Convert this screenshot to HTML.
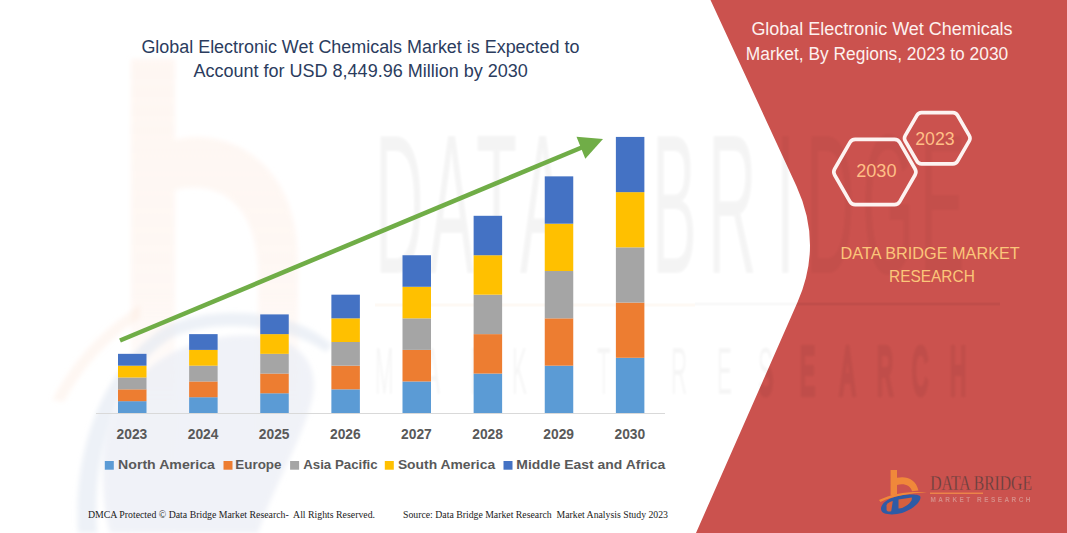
<!DOCTYPE html>
<html lang="en">
<head>
<meta charset="utf-8">
<title>Global Electronic Wet Chemicals Market</title>
<style>
  html, body { margin: 0; padding: 0; background: #ffffff; }
  body { width: 1067px; height: 533px; overflow: hidden; position: relative; }
  svg { position: absolute; left: 0; top: 0; display: block; }
  .sans { font-family: "Liberation Sans", "DejaVu Sans", sans-serif; }
  .serif { font-family: "Liberation Serif", "DejaVu Serif", serif; }
</style>
</head>
<body>
<svg width="1067" height="533" viewBox="0 0 1067 533">
  <rect x="0" y="0" width="1067" height="533" fill="#ffffff"/>
  <defs><filter id="soft" x="-10%" y="-10%" width="120%" height="120%"><feGaussianBlur stdDeviation="2.5"/></filter><filter id="soft2" x="-5%" y="-5%" width="110%" height="110%"><feGaussianBlur stdDeviation="1.2"/></filter><filter id="soft3" x="-5%" y="-30%" width="110%" height="160%"><feGaussianBlur stdDeviation="0.45"/></filter></defs>
  <g id="wm-left" filter="url(#soft)">
    <defs><linearGradient id="bgrad" gradientUnits="userSpaceOnUse" x1="0" y1="60" x2="0" y2="533"><stop offset="0" stop-color="#fdeee6" stop-opacity="0.5"/><stop offset="0.5" stop-color="#fdeee6" stop-opacity="0.45"/><stop offset="0.75" stop-color="#fdeee6" stop-opacity="0.1"/><stop offset="1" stop-color="#eef0f6" stop-opacity="0.1"/></linearGradient></defs>
    <path d="M131 59 L175 59 L175 140 C 215 128, 298 150, 298 262 L 298 430 L 258 430 L 258 275 C 258 200, 215 180, 175 190 L 175 533 L 131 533 Z" fill="url(#bgrad)"/>
    <path fill="#dfe5f0" opacity="0.55" d="M78 533 C 74 470, 90 380, 160 330 C 200 305, 290 305, 332 345 L 326 352 C 285 322, 205 318, 168 340 C 112 378, 92 460, 97 533 Z"/>
    <path fill="#e9edf5" opacity="0.7" d="M103 470 C 103 400, 150 345, 230 336 C 292 330, 322 358, 312 400 C 302 440, 272 490, 258 533 L 110 533 C 105 515, 103 495, 103 470 Z"/>
    <path d="M52 400 C 72 362, 100 330, 140 305 L 140 318 C 108 340, 82 368, 64 402 Z" fill="#fbe3d3" opacity="0.3"/>
  </g>
  <g opacity="0.04" filter="url(#soft2)"><text class="sans" transform="scale(0.34,1)" x="1102.9 1261.8 1400.0 1529.4 1764.7 1917.6 2082.4 2282.4 2370.6 2535.3 2705.9" y="273" font-size="198" fill="#000">DATA BRIDGE</text></g>
  <g opacity="0.035" filter="url(#soft2)"><text class="sans" transform="scale(0.34,1)" x="1102.9 1250.0 1382.4 1505.9 1635.3 1755.9 1882.4 1973.5 2108.8 2229.4 2352.9 2470.6 2579.4 2682.4 2794.1" y="394" font-size="66" fill="#000" stroke="#000" stroke-width="0">MARKET RESEARCH</text></g>
  <rect x="375" y="303.5" width="320" height="3" fill="#f4a460" opacity="0.07"/>
  <rect x="695" y="302.5" width="305" height="3" fill="#000" opacity="0.025"/>
  <g id="chart">
    <rect x="96" y="413.0" width="569" height="1" fill="#d9d9d9"/>
    <rect x="118.00" y="401.17" width="28.5" height="11.83" fill="#5b9bd5"/>
    <rect x="118.00" y="389.34" width="28.5" height="11.83" fill="#ed7d31"/>
    <rect x="118.00" y="377.50" width="28.5" height="11.83" fill="#a5a5a5"/>
    <rect x="118.00" y="365.67" width="28.5" height="11.83" fill="#ffc000"/>
    <rect x="118.00" y="353.84" width="28.5" height="11.83" fill="#4472c4"/>
    <rect x="189.12" y="397.22" width="28.5" height="15.78" fill="#5b9bd5"/>
    <rect x="189.12" y="381.45" width="28.5" height="15.78" fill="#ed7d31"/>
    <rect x="189.12" y="365.67" width="28.5" height="15.78" fill="#a5a5a5"/>
    <rect x="189.12" y="349.90" width="28.5" height="15.78" fill="#ffc000"/>
    <rect x="189.12" y="334.12" width="28.5" height="15.78" fill="#4472c4"/>
    <rect x="260.25" y="393.28" width="28.5" height="19.72" fill="#5b9bd5"/>
    <rect x="260.25" y="373.56" width="28.5" height="19.72" fill="#ed7d31"/>
    <rect x="260.25" y="353.84" width="28.5" height="19.72" fill="#a5a5a5"/>
    <rect x="260.25" y="334.12" width="28.5" height="19.72" fill="#ffc000"/>
    <rect x="260.25" y="314.40" width="28.5" height="19.72" fill="#4472c4"/>
    <rect x="331.38" y="389.34" width="28.5" height="23.66" fill="#5b9bd5"/>
    <rect x="331.38" y="365.67" width="28.5" height="23.66" fill="#ed7d31"/>
    <rect x="331.38" y="342.01" width="28.5" height="23.66" fill="#a5a5a5"/>
    <rect x="331.38" y="318.34" width="28.5" height="23.66" fill="#ffc000"/>
    <rect x="331.38" y="294.68" width="28.5" height="23.66" fill="#4472c4"/>
    <rect x="402.50" y="381.45" width="28.5" height="31.55" fill="#5b9bd5"/>
    <rect x="402.50" y="349.90" width="28.5" height="31.55" fill="#ed7d31"/>
    <rect x="402.50" y="318.34" width="28.5" height="31.55" fill="#a5a5a5"/>
    <rect x="402.50" y="286.79" width="28.5" height="31.55" fill="#ffc000"/>
    <rect x="402.50" y="255.24" width="28.5" height="31.55" fill="#4472c4"/>
    <rect x="473.62" y="373.56" width="28.5" height="39.44" fill="#5b9bd5"/>
    <rect x="473.62" y="334.12" width="28.5" height="39.44" fill="#ed7d31"/>
    <rect x="473.62" y="294.68" width="28.5" height="39.44" fill="#a5a5a5"/>
    <rect x="473.62" y="255.24" width="28.5" height="39.44" fill="#ffc000"/>
    <rect x="473.62" y="215.80" width="28.5" height="39.44" fill="#4472c4"/>
    <rect x="544.75" y="365.67" width="28.5" height="47.33" fill="#5b9bd5"/>
    <rect x="544.75" y="318.34" width="28.5" height="47.33" fill="#ed7d31"/>
    <rect x="544.75" y="271.02" width="28.5" height="47.33" fill="#a5a5a5"/>
    <rect x="544.75" y="223.69" width="28.5" height="47.33" fill="#ffc000"/>
    <rect x="544.75" y="176.36" width="28.5" height="47.33" fill="#4472c4"/>
    <rect x="615.88" y="357.78" width="28.5" height="55.22" fill="#5b9bd5"/>
    <rect x="615.88" y="302.57" width="28.5" height="55.22" fill="#ed7d31"/>
    <rect x="615.88" y="247.35" width="28.5" height="55.22" fill="#a5a5a5"/>
    <rect x="615.88" y="192.14" width="28.5" height="55.22" fill="#ffc000"/>
    <rect x="615.88" y="136.92" width="28.5" height="55.22" fill="#4472c4"/>
  </g>
  <g class="sans" font-weight="bold" font-size="13.8" fill="#595959" text-anchor="middle">
    <text x="131.95" y="439">2023</text>
    <text x="203.07" y="439">2024</text>
    <text x="274.20" y="439">2025</text>
    <text x="345.32" y="439">2026</text>
    <text x="416.45" y="439">2027</text>
    <text x="487.57" y="439">2028</text>
    <text x="558.70" y="439">2029</text>
    <text x="629.83" y="439">2030</text>
  </g>
  <g class="sans" font-weight="bold" font-size="13.6" fill="#595959">
    <rect x="104.8" y="461" width="9" height="8.7" fill="#5b9bd5"/>
    <text x="118.1" y="468.7" textLength="96.8" lengthAdjust="spacingAndGlyphs">North America</text>
    <rect x="223.5" y="461" width="9" height="8.7" fill="#ed7d31"/>
    <text x="235.3" y="468.7" textLength="46.2" lengthAdjust="spacingAndGlyphs">Europe</text>
    <rect x="290.1" y="461" width="9" height="8.7" fill="#a5a5a5"/>
    <text x="303.2" y="468.7" textLength="74.5" lengthAdjust="spacingAndGlyphs">Asia Pacific</text>
    <rect x="384.8" y="461" width="9" height="8.7" fill="#ffc000"/>
    <text x="397.9" y="468.7" textLength="97.2" lengthAdjust="spacingAndGlyphs">South America</text>
    <rect x="503.5" y="461" width="9" height="8.7" fill="#4472c4"/>
    <text x="516.3" y="468.7" textLength="148.9" lengthAdjust="spacingAndGlyphs">Middle East and Africa</text>
  </g>
  <line x1="120" y1="340.5" x2="582.9" y2="147.0" stroke="#70ad47" stroke-width="4.6"/>
  <polygon points="576.5,136.8 603.0,138.9 585.3,158.8" fill="#70ad47"/>
  <g class="sans" fill="#2b3c5e" font-size="18">
    <text x="141.4" y="52.7" textLength="438" lengthAdjust="spacingAndGlyphs">Global Electronic Wet Chemicals Market is Expected to</text>
    <text x="193.4" y="77.2" textLength="334.5" lengthAdjust="spacingAndGlyphs">Account for USD 8,449.96 Million by 2030</text>
  </g>
  <g class="serif" fill="#1a1a1a" font-size="10.5">
    <text x="88" y="518.3" style="white-space:pre" textLength="287" lengthAdjust="spacingAndGlyphs">DMCA Protected &#169; Data Bridge Market Research-  All Rights Reserved.</text>
    <text x="403" y="518.3" style="white-space:pre" textLength="265" lengthAdjust="spacingAndGlyphs">Source: Data Bridge Market Research  Market Analysis Study 2023</text>
  </g>
  <defs><clipPath id="pc"><path d="M710.5 0 L1067 0 L1067 533 L696 533 L797.6 302 Q823 244 796.4 186 Z"/></clipPath></defs>
  <path d="M710.5 0 L1067 0 L1067 533 L696 533 L797.6 302 Q823 244 796.4 186 Z" fill="#cb524e"/>
  <g clip-path="url(#pc)">
  <g opacity="0.03" filter="url(#soft2)"><text class="sans" transform="scale(0.34,1)" x="1102.9 1261.8 1400.0 1529.4 1764.7 1917.6 2082.4 2282.4 2370.6 2535.3 2705.9" y="273" font-size="198" fill="#000">DATA BRIDGE</text></g>
  <g opacity="0.05" filter="url(#soft2)"><text class="sans" transform="scale(0.34,1)" x="1102.9 1250.0 1382.4 1505.9 1635.3 1755.9 1882.4 1973.5 2108.8 2229.4 2352.9 2470.6 2579.4 2682.4 2794.1" y="394" font-size="66" fill="#000" stroke="#000" stroke-width="6">MARKET RESEARCH</text></g>
  <rect x="375" y="303.5" width="320" height="3" fill="#f4a460" opacity="0.07"/>
  <rect x="695" y="302.5" width="305" height="3" fill="#000" opacity="0.05"/>
  </g>
  <g class="sans" fill="#fdf1ef" font-size="18">
    <text x="751.4" y="35" textLength="261.2" lengthAdjust="spacingAndGlyphs">Global Electronic Wet Chemicals</text>
    <text x="745.8" y="59.5" textLength="262.4" lengthAdjust="spacingAndGlyphs">Market, By Regions, 2023 to 2030</text>
  </g>
  <path d="M834.63 169.00 L849.97 142.40 A6.0 6.0 0 0 1 855.17 139.40 L894.53 139.40 A6.0 6.0 0 0 1 899.73 142.40 L915.07 169.00 A6.0 6.0 0 0 1 915.07 175.00 L899.73 201.60 A6.0 6.0 0 0 1 894.53 204.60 L855.17 204.60 A6.0 6.0 0 0 1 849.97 201.60 L834.63 175.00 A6.0 6.0 0 0 1 834.63 169.00 Z" fill="none" stroke="#fdf3f1" stroke-width="3.6"/>
  <path d="M905.20 135.65 L917.00 115.25 A5.2 5.2 0 0 1 921.50 112.65 L953.00 112.65 A5.2 5.2 0 0 1 957.50 115.25 L969.30 135.65 A5.2 5.2 0 0 1 969.30 140.85 L957.50 161.25 A5.2 5.2 0 0 1 953.00 163.85 L921.50 163.85 A5.2 5.2 0 0 1 917.00 161.25 L905.20 140.85 A5.2 5.2 0 0 1 905.20 135.65 Z" fill="none" stroke="#fdf3f1" stroke-width="3.6"/>
  <g class="sans" fill="#ffbf86" font-size="18.2">
    <text x="856.2" y="176.8" textLength="40.3" lengthAdjust="spacingAndGlyphs">2030</text>
    <text x="915.2" y="145" textLength="39.4" lengthAdjust="spacingAndGlyphs">2023</text>
  </g>
  <g class="sans" fill="#fbc67a" font-size="17.3">
    <text x="840.6" y="259" textLength="179.2" lengthAdjust="spacingAndGlyphs">DATA BRIDGE MARKET</text>
    <text x="889.0" y="282.2" textLength="85.8" lengthAdjust="spacingAndGlyphs">RESEARCH</text>
  </g>
  <g id="logo">
    <path d="M890.6 470 L897 470 L897 477.8 C 906 475.5, 916 479, 918.5 490.5 L 912 491.2 C 910.5 485.5, 904 483, 897 485 L 897 494.5 L 890.6 495.5 Z" fill="#f0883a"/>
    <path d="M881 509 C 881 502, 892 496, 905 494.8 C 913 494, 920.5 494.2, 920.5 497.2 C 920.5 503, 911 510, 902 513 C 893 515.5, 881 515, 881 509 Z" fill="#2e5ba6"/>
    <path d="M898.5 499.6 L 911.8 497.6 C 912.8 501, 908 506, 901 508.2 L 898.5 508.4 Z" fill="#d4603f"/>
    <path d="M886.5 505 C 888.5 502.5, 890.5 501.3, 892.8 501 L 891.2 511.2 C 889.2 512, 887.3 511.6, 886.6 510.2 Z" fill="#d4603f"/>
    <path d="M879 500 C 892 493.5, 910 491, 927 492.3 C 910 493.2, 893 496, 880.5 502 Z" fill="#f0883a"/>
  </g>
  <g class="serif" fill="#62403e" font-size="20" stroke="#cb524e" stroke-width="0.3">
    <text x="930.2" y="490.4" textLength="101.8" lengthAdjust="spacingAndGlyphs">DATA BRIDGE</text>
  </g>
  <rect x="930" y="492.6" width="53" height="1.3" fill="#f08a4a"/>
  <g class="sans" fill="#d68c86" font-size="6.4" font-weight="bold" filter="url(#soft3)">
    <text x="930.4" y="502.2" textLength="102" lengthAdjust="spacing" letter-spacing="2">MARKET RESEARCH</text>
  </g>
</svg>
</body>
</html>
